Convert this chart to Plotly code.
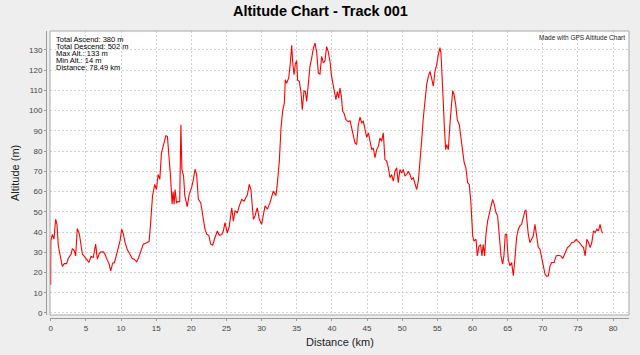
import plotly.graph_objects as go

# ---- data ----
distance_km = [
    0.0, 0.02, 0.23, 0.47, 0.7, 0.89, 1.08, 1.37, 1.65, 1.93, 2.26, 2.5, 2.89, 3.08, 3.36, 3.55,
    3.78, 4.08, 4.31, 4.5, 4.78, 5.11, 5.44, 5.74, 6.06, 6.39, 6.63, 6.92, 7.16, 7.49, 7.72, 8.05,
    8.29, 8.54, 8.82, 9.06, 9.38, 9.62, 9.86, 10.1, 10.34, 10.57, 10.9, 11.27, 11.6, 11.88, 12.23,
    12.46, 12.7, 13.17, 13.65, 14.0, 14.2, 14.48, 14.8, 15.04, 15.28, 15.52, 15.75, 16.08, 16.38,
    16.6, 16.84, 17.04, 17.27, 17.41, 17.55, 17.7, 17.89, 18.1, 18.35, 18.42, 18.52, 18.66, 18.9,
    19.08, 19.42, 19.7, 20.04, 20.28, 20.53, 20.76, 21.0, 21.34, 21.62, 21.94, 22.2, 22.48, 22.76,
    23.04, 23.37, 23.7, 23.98, 24.32, 24.56, 24.79, 25.12, 25.4, 25.75, 25.98, 26.22, 26.55, 26.83,
    27.17, 27.5, 27.78, 27.97, 28.25, 28.48, 28.83, 29.06, 29.39, 29.67, 30.0, 30.25, 30.49, 30.82,
    31.2, 31.66, 32.04, 32.23, 32.52, 32.76, 33.0, 33.23, 33.37, 33.56, 33.85, 34.04, 34.28, 34.42,
    34.61, 34.8, 34.99, 35.12, 35.36, 35.6, 35.79, 36.03, 36.22, 36.41, 36.64, 36.88, 37.12, 37.36,
    37.6, 37.83, 38.07, 38.3, 38.54, 38.78, 39.01, 39.25, 39.49, 39.73, 39.96, 40.2, 40.43, 40.57,
    40.77, 40.96, 41.15, 41.34, 41.53, 41.72, 42.0, 42.34, 42.58, 42.81, 43.04, 43.28, 43.52, 43.76,
    44.0, 44.23, 44.47, 44.71, 44.95, 45.19, 45.42, 45.66, 45.89, 46.13, 46.37, 46.61, 46.84, 47.08,
    47.31, 47.55, 47.79, 48.03, 48.27, 48.5, 48.73, 48.97, 49.21, 49.44, 49.68, 49.92, 50.16, 50.4,
    50.63, 50.87, 51.1, 51.34, 51.58, 51.82, 52.06, 52.29, 52.53, 52.76, 53.0, 53.24, 53.48, 53.71,
    53.95, 54.18, 54.42, 54.66, 54.9, 55.13, 55.37, 55.51, 55.7, 55.84, 55.98, 56.18, 56.32, 56.56,
    56.8, 57.04, 57.18, 57.37, 57.61, 57.83, 58.12, 58.36, 58.59, 58.82, 59.06, 59.3, 59.53, 59.76,
    60.03, 60.21, 60.5, 60.68, 60.92, 61.15, 61.34, 61.53, 61.72, 61.91, 62.15, 62.39, 62.62, 62.86,
    63.09, 63.33, 63.57, 63.8, 64.05, 64.28, 64.47, 64.66, 64.85, 65.08, 65.33, 65.57, 65.8, 66.03,
    66.27, 66.51, 66.74, 66.98, 67.21, 67.46, 67.6, 67.79, 67.93, 68.17, 68.41, 68.64, 68.88, 69.12,
    69.36, 69.6, 69.84, 70.08, 70.31, 70.55, 70.79, 71.03, 71.26, 71.6, 71.89, 72.22, 72.56, 72.84,
    73.17, 73.5, 73.79, 74.12, 74.46, 74.75, 74.93, 75.22, 75.55, 75.79, 76.02, 76.26, 76.5, 76.73,
    76.97, 77.2, 77.44, 77.67, 77.91, 78.14, 78.28, 78.49,
]
altitude_m = [
    14, 35.6, 38.8, 36.5, 46.3, 43.8, 33.2, 27.6, 23, 24.4, 24.4, 26.9, 29, 31.8, 30.7, 28.2,
    41.7, 39, 33.1, 29.1, 28, 26.6, 25, 28, 27.4, 34, 26.6, 29.5, 30.2, 30.2, 29, 26.1,
    24.4, 20.8, 24.7, 24.7, 29, 33.5, 35.6, 41.4, 38.9, 35, 31.2, 29, 26.9, 26.6, 25.3,
    26.9, 29, 34, 34.7, 35.4, 43.8, 57.8, 63.5, 61, 68.4, 66, 79, 84, 87.6,
    87.3, 77.5, 67.6, 53.7, 60, 53.7, 61, 54.5, 55, 55, 74.2, 93, 71, 67.6,
    57.8, 52.5, 58.6, 61.9, 65.6, 71, 68.4, 56.1, 54.5, 47.9, 41.4, 38.9, 38.4, 34,
    33.5, 37.3, 40.5, 38.4, 38.7, 40.5, 44.6, 39.5, 42.8, 52, 45.4, 50.4, 49.6, 52.9,
    56.1, 55.2, 56.8, 58.4, 63.5, 61, 46.3, 47.9, 52, 46.3, 43.8, 48.7, 52.9, 51.3,
    54.5, 60.2, 58, 63.5, 75, 91.4, 100, 103.7, 115.2, 113.5, 116, 121.8, 132.2, 124,
    117.7, 123, 124.6, 115, 114.4, 109, 100.4, 109.8, 109.5, 104.5, 114.4, 121.8, 125.9, 130.8,
    133.3, 129, 118.5, 118, 126.8, 123.5, 124.6, 131.6, 129, 124.1, 116.8, 112.8, 107.8, 105.4,
    109.4, 106.2, 111.1, 107, 99.6, 98.8, 95.5, 94.4, 95, 91.4, 89, 84, 83.2, 93,
    96.7, 94, 94.7, 89.8, 86.8, 89, 84.9, 80.7, 81.5, 76.7, 80.7, 82.4, 86.4, 84.9,
    89, 75.8, 75, 71.7, 66.8, 68.4, 65.1, 69.9, 71.7, 64.4, 70.9, 69.2, 70.9, 67.6,
    68.4, 70, 68.4, 66, 66.8, 64.4, 61, 65.1, 73.4, 84.9, 96.3, 106, 112.8, 116.8,
    119.3, 116, 112, 119.3, 122.6, 127.5, 131.1, 128.4, 117.7, 104.5, 93, 80.7, 83.2, 80.7,
    93.8, 104.5, 109.8, 108, 102.9, 95.5, 93, 86.4, 79.9, 74.2, 71.7, 64.4, 63.5, 55,
    38, 35.6, 36.4, 28.2, 33, 33.8, 28.2, 33.8, 28.2, 38.9, 45.4, 48.7, 52.9, 56.1,
    53.7, 49.6, 48, 38, 28.2, 24.1, 28.2, 38.9, 38.9, 26.6, 23.3, 24.9, 18.4, 26.6,
    37.3, 41.4, 43, 43.8, 47.9, 50.4, 50.9, 43.8, 38.9, 34.8, 36.4, 38, 43.8, 38,
    32.3, 31.5, 26.6, 23.3, 19.2, 18.1, 18.4, 23.3, 24.9, 24.9, 28.2, 28.5, 28.2, 26.9,
    29.9, 32.3, 33.1, 34.8, 35.1, 36.4, 35.6, 34.8, 33.1, 32.3, 28.2, 36.4, 34.8, 32.3,
    34.8, 40.5, 39.7, 41.4, 40.5, 43.8, 41.4, 39.4,
]
stats_lines = [
    "Total Ascend: 380 m",
    "Total Descend: 502 m",
    "Max Alt.: 133 m",
    "Min Alt.: 14 m",
    "Distance: 78.49 km",
]
chart_title = "Altitude Chart - Track 001"
credit_text = "Made with GPS Altitude Chart"
x_title = "Distance (km)"
y_title = "Altitude (m)"

# ---- layout geometry (pixels) ----
W, H = 640, 355
ML, MR, MT, MB = 46, 11, 31, 37
PW, PH = W - ML - MR, H - MT - MB
OFFX = 4   # horizontal offset of the y axis line from the plot frame
OFFY = 3   # vertical offset of the x axis line from the plot frame


def ax(px):
    return (px - ML) / PW


def ay(py):
    return (H - MB - py) / PH


FONT = "Liberation Sans, Arial, sans-serif"
GRID = "#d2d2d2"
AXC = "#9a9a9a"

fig = go.Figure()
fig.add_trace(go.Scatter(
    x=distance_km, y=altitude_m, mode="lines",
    line=dict(color="#ff0000", width=1.1), hoverinfo="skip", showlegend=False,
))

annotations = [
    dict(text="<b>%s</b>" % chart_title, x=ax(320), y=ay(11), xref="paper", yref="paper",
         showarrow=False, xanchor="center", yanchor="middle",
         font=dict(family=FONT, size=14.5, color="#000000")),
    dict(text=x_title, x=ax(340), y=ay(342), xref="paper", yref="paper",
         showarrow=False, xanchor="center", yanchor="middle",
         font=dict(family=FONT, size=11, color="#222222")),
    dict(text=y_title, x=ax(15), y=ay(173), xref="paper", yref="paper", textangle=-90,
         showarrow=False, xanchor="center", yanchor="middle",
         font=dict(family=FONT, size=11, color="#222222")),
    dict(text=credit_text, x=ax(627), y=ay(37.5), xref="paper", yref="paper",
         showarrow=False, xanchor="right", yanchor="middle",
         font=dict(family=FONT, size=6.5, color="#222222")),
]
for i, s in enumerate(stats_lines):
    annotations.append(dict(
        text=s, x=ax(54), y=ay(39.8 + 6.85 * i), xref="paper", yref="paper",
        showarrow=False, xanchor="left", yanchor="middle",
        font=dict(family=FONT, size=7.5, color="#000000")))

fig.update_layout(
    width=W, height=H,
    margin=dict(l=ML, r=MR, t=MT, b=MB, pad=0),
    paper_bgcolor="#eeeeee", plot_bgcolor="#ffffff",
    font=dict(family=FONT, size=8, color="#444444"),
    annotations=annotations,
    xaxis=dict(
        domain=[OFFX / PW, 1], anchor="free", position=0,
        range=[-0.1, 82.26], tick0=0, dtick=5, ticks="outside", ticklen=2,
        tickcolor=AXC, tickfont=dict(size=8, color="#444444"),
        showline=True, linecolor=AXC, linewidth=1,
        showgrid=True, gridcolor=GRID, griddash="2px,2px", gridwidth=1,
        zeroline=False, fixedrange=True,
    ),
    yaxis=dict(
        domain=[OFFY / PH, 1], anchor="free", position=0,
        range=[-1.0, 139.3], tick0=0, dtick=10, ticks="outside", ticklen=2,
        tickcolor=AXC, tickfont=dict(size=8, color="#444444"),
        showline=True, linecolor=AXC, linewidth=1,
        showgrid=True, gridcolor=GRID, griddash="2px,2px", gridwidth=1,
        zeroline=False, fixedrange=True,
    ),
    shapes=[dict(type="rect", xref="x domain", yref="y domain", x0=0, x1=1, y0=0, y1=1,
                 line=dict(color="#a8a8a8", width=1), layer="above")],
)

fig.write_html("out.html", config={"displayModeBar": False},
               post_script="document.body.style.margin='0';document.body.style.padding='0';")
